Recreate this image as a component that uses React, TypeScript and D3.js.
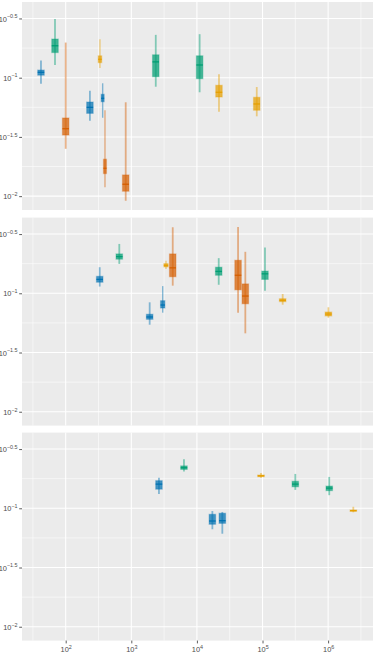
import React, { useEffect, useRef } from 'react';
import * as d3 from 'd3';

// groups and their colours (Okabe-Ito)
const groups = ['g1', 'g2', 'g3', 'g4'];
const groupColors = ['#0072B2', '#009E73', '#D55E00', '#E69F00'];

// tick values and labels (exponents of ten)
const xTicks = [1e2, 1e3, 1e4, 1e5, 1e6];
const xTickExp = ['2', '3', '4', '5', '6'];
const yTicks = [10 ** -2, 10 ** -1.5, 10 ** -1, 10 ** -0.5];
const yTickExp = ['\u22122', '\u22121.5', '\u22121', '\u22120.5'];

// stats rows: [lower whisker, q1, median, q3, upper whisker]
const p1X = [42, 68.7, 100, 234, 333, 366, 397, 822, 2360, 11000, 21700, 81700];
const p1Group = ['g1', 'g2', 'g3', 'g1', 'g4', 'g1', 'g3', 'g3', 'g2', 'g2', 'g4', 'g4'];
const p1Stats = [
    [0.0889, 0.105, 0.111, 0.116, 0.140],
    [0.128, 0.163, 0.186, 0.212, 0.313],
    [0.0251, 0.0328, 0.0371, 0.0457, 0.198],
    [0.0433, 0.0500, 0.0562, 0.0623, 0.0777],
    [0.121, 0.134, 0.143, 0.153, 0.211],
    [0.0459, 0.0627, 0.0670, 0.0724, 0.0897],
    [0.0119, 0.0155, 0.0172, 0.0205, 0.0531],
    [0.00914, 0.0110, 0.0126, 0.0151, 0.0620],
    [0.0839, 0.102, 0.136, 0.156, 0.230],
    [0.0753, 0.0981, 0.128, 0.153, 0.233],
    [0.0516, 0.0687, 0.0753, 0.0863, 0.107],
    [0.0472, 0.0531, 0.0600, 0.0683, 0.0834],
];

const p2X = [330, 656, 1905, 3010, 3380, 4280, 21500, 42400, 54700, 109000, 203000, 1010000];
const p2Group = ['g1', 'g2', 'g1', 'g1', 'g4', 'g3', 'g2', 'g3', 'g3', 'g2', 'g4', 'g4'];
const p2Stats = [
    [0.114, 0.124, 0.131, 0.139, 0.166],
    [0.177, 0.194, 0.204, 0.215, 0.261],
    [0.0543, 0.0603, 0.0631, 0.0665, 0.0839],
    [0.0686, 0.0751, 0.0796, 0.0866, 0.115],
    [0.160, 0.167, 0.172, 0.178, 0.188],
    [0.116, 0.138, 0.164, 0.215, 0.361],
    [0.118, 0.142, 0.153, 0.166, 0.198],
    [0.0686, 0.107, 0.142, 0.190, 0.363],
    [0.0459, 0.0816, 0.0948, 0.120, 0.224],
    [0.105, 0.131, 0.146, 0.154, 0.243],
    [0.0801, 0.0850, 0.0873, 0.0900, 0.0986],
    [0.0622, 0.0643, 0.0668, 0.0695, 0.0762],
];

const p3X = [2640, 6350, 17200, 24400, 94800, 316000, 1040000, 2420000];
const p3Group = ['g1', 'g2', 'g1', 'g1', 'g4', 'g2', 'g2', 'g4'];
const p3Stats = [
    [0.132, 0.145, 0.160, 0.171, 0.181],
    [0.204, 0.213, 0.220, 0.228, 0.259],
    [0.0665, 0.0733, 0.0781, 0.0889, 0.0948],
    [0.0610, 0.0746, 0.0786, 0.0908, 0.0931],
    [0.181, 0.185, 0.188, 0.191, 0.199],
    [0.143, 0.152, 0.160, 0.169, 0.195],
    [0.129, 0.141, 0.148, 0.154, 0.184],
    [0.0925, 0.0944, 0.0955, 0.0968, 0.103],
];

const panels = [
    { x: p1X, group: p1Group, stats: p1Stats },
    { x: p2X, group: p2Group, stats: p2Stats },
    { x: p3X, group: p3Group, stats: p3Stats },
];

function App() {
    const svgRef = useRef<SVGSVGElement>(null);

    useEffect(() => {
        const width = 374;
        const height = 654;
        const left = 22;
        const right = 373;
        const panelTops = [2, 217.6, 432.6];
        const panelH = 208;
        const maxBoxW = 6.5;

        const svg = d3.select(svgRef.current);
        svg.selectAll('*').remove();
        svg.attr('width', width).attr('height', height);

        const x = d3.scaleLog()
            .domain([10 ** 1.334, 10 ** 6.684])
            .range([left, right]);

        const color = d3.scaleOrdinal<string, string>()
            .domain(groups)
            .range(groupColors);

        const xMinor = d3.range(1.5, 7, 1).map(e => 10 ** e);
        const yMinor = [-2.25, -1.75, -1.25, -0.75].map(e => 10 ** e);

        panels.forEach((p, pi) => {
            const top = panelTops[pi];
            const y = d3.scaleLog()
                .domain([10 ** -2.117, 10 ** -0.361])
                .range([top + panelH, top]);

            const g = svg.append('g');

            // background
            g.append('rect')
                .attr('x', left)
                .attr('y', top)
                .attr('width', right - left)
                .attr('height', panelH)
                .attr('fill', '#EBEBEB');

            // minor grid
            g.selectAll('.xminor')
                .data(xMinor.filter(v => x(v) > left && x(v) < right))
                .enter()
                .append('line')
                .attr('x1', d => x(d)).attr('x2', d => x(d))
                .attr('y1', top).attr('y2', top + panelH)
                .attr('stroke', '#fff').attr('stroke-width', 0.55);
            g.selectAll('.yminor')
                .data(yMinor.filter(v => y(v) > top && y(v) < top + panelH))
                .enter()
                .append('line')
                .attr('x1', left).attr('x2', right)
                .attr('y1', d => y(d)).attr('y2', d => y(d))
                .attr('stroke', '#fff').attr('stroke-width', 0.55);

            // major grid
            g.selectAll('.xmajor')
                .data(xTicks)
                .enter()
                .append('line')
                .attr('x1', d => x(d)).attr('x2', d => x(d))
                .attr('y1', top).attr('y2', top + panelH)
                .attr('stroke', '#fff').attr('stroke-width', 1.07);
            g.selectAll('.ymajor')
                .data(yTicks)
                .enter()
                .append('line')
                .attr('x1', left).attr('x2', right)
                .attr('y1', d => y(d)).attr('y2', d => y(d))
                .attr('stroke', '#fff').attr('stroke-width', 1.07);

            // y axis
            const yAxis = g.append('g')
                .attr('transform', `translate(${left},0)`)
                .call(d3.axisLeft(y).tickValues(yTicks).tickSize(2.8).tickPadding(1.6).tickFormat(() => ''));
            yAxis.select('.domain').remove();
            yAxis.selectAll('.tick line').attr('stroke', '#333333').attr('stroke-width', 0.8);
            yAxis.selectAll('.tick text').each(function (d, i) {
                const t = d3.select(this);
                t.attr('fill', '#4D4D4D')
                    .attr('font-family', '"Liberation Sans", Arial, sans-serif')
                    .attr('font-size', 7.4)
                    .attr('dy', '0.36em');
                t.append('tspan').text('10');
                t.append('tspan').attr('font-size', 5.4).attr('dy', -3.4).text(yTickExp[i]);
            });

            // boxes get narrower when a neighbour sits close by
            const px = p.x.map(v => x(v));
            const boxWidth = px.map((cx, i) => {
                const gaps = px.filter((_, j) => j !== i).map(o => Math.abs(o - cx));
                const gap = d3.min(gaps) ?? 100;
                return Math.max(3, Math.min(maxBoxW, gap * 1.3));
            });

            // boxplots
            p.x.forEach((xv, i) => {
                const [lo, q1, med, q3, hi] = p.stats[i];
                const c = color(p.group[i]);
                const cx = x(xv);
                const bw = boxWidth[i];
                const bg = g.append('g');
                bg.append('line')
                    .attr('x1', cx).attr('x2', cx)
                    .attr('y1', y(lo)).attr('y2', y(hi))
                    .attr('stroke', c)
                    .attr('stroke-opacity', 0.45)
                    .attr('stroke-width', bw < maxBoxW ? 1.4 : 1.8);
                bg.append('rect')
                    .attr('x', cx - bw / 2)
                    .attr('y', y(q3))
                    .attr('width', bw)
                    .attr('height', Math.max(y(q1) - y(q3), 1))
                    .attr('fill', c)
                    .attr('fill-opacity', 0.72)
                    .attr('stroke', c)
                    .attr('stroke-opacity', 0.3)
                    .attr('stroke-width', 1.2);
                bg.append('line')
                    .attr('x1', cx - bw / 2).attr('x2', cx + bw / 2)
                    .attr('y1', y(med)).attr('y2', y(med))
                    .attr('stroke', c)
                    .attr('stroke-width', 1.3);
            });

            // x axis under the last panel
            if (pi === panels.length - 1) {
                const xAxis = g.append('g')
                    .attr('transform', `translate(0,${top + panelH})`)
                    .call(d3.axisBottom(x).tickValues(xTicks).tickSize(2.8).tickPadding(2).tickFormat(() => ''));
                xAxis.select('.domain').remove();
                xAxis.selectAll('.tick line').attr('stroke', '#333333').attr('stroke-width', 0.8);
                xAxis.selectAll('.tick text').each(function (d, i) {
                    const t = d3.select(this);
                    t.attr('fill', '#4D4D4D')
                        .attr('font-family', '"Liberation Sans", Arial, sans-serif')
                        .attr('font-size', 7.4)
                        .attr('dy', '0.9em');
                    t.append('tspan').text('10');
                    t.append('tspan').attr('font-size', 5.4).attr('dy', -3.4).text(xTickExp[i]);
                });
            }
        });
    }, []);

    return <svg ref={svgRef} style={{ position: 'absolute', left: 0, top: 0, background: '#fff' }}></svg>;
}

export default App;
